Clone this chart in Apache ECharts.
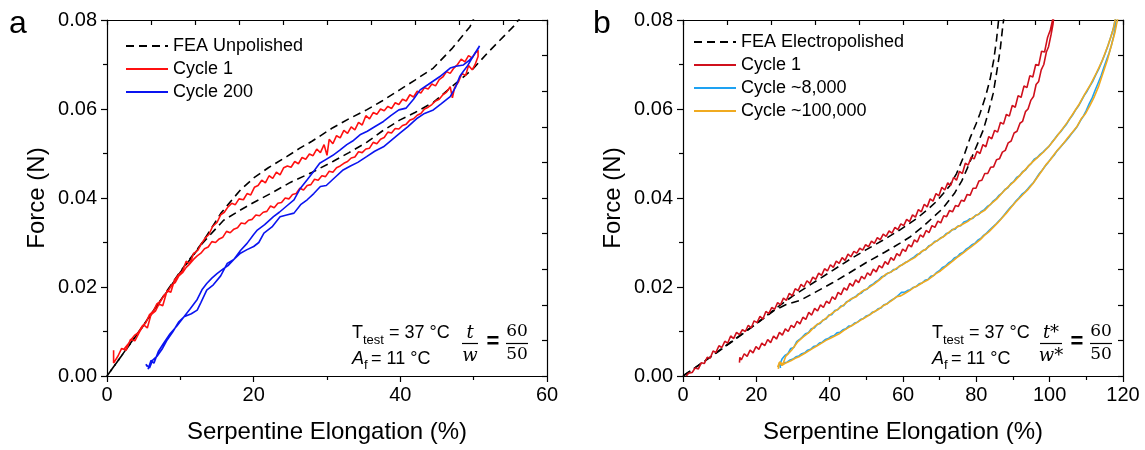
<!DOCTYPE html>
<html>
<head>
<meta charset="utf-8">
<script src="https://cdn.jsdelivr.net/npm/echarts@6/dist/echarts.min.js"></script>
<style>html,body{margin:0;padding:0;background:#fff}#chart{width:1145px;height:450px}</style>
</head>
<body>
<div id="chart"></div>
<script>
// ---- panel a : unpolished ----
const feaUnpolishedLoad = [[0,0],[5,0.0115],[10,0.0235],[13,0.030],[15.5,0.0365],[17,0.0395],[18.2,0.0418],[20,0.0445],[22,0.0468],[24.5,0.0493],[26.3,0.0512],[28,0.0528],[30.8,0.0558],[33,0.0578],[35.4,0.0598],[37.5,0.0618],[39.9,0.0643],[42,0.0665],[44.5,0.0692],[47,0.0735],[49.5,0.0785],[50.2,0.0810]]
const feaUnpolishedUnload = [[56.6,0.0810],[55.4,0.0785],[52,0.0728],[49.9,0.0690],[47,0.0650],[44.5,0.0615],[42,0.0592],[39.9,0.0575],[37.5,0.0550],[35.4,0.0525],[33,0.0502],[30.8,0.0482],[28,0.0458],[25,0.0435],[22.3,0.0410],[20,0.0390],[18.2,0.0373],[15.9,0.0350],[14.5,0.0325],[13,0.0298],[10,0.0233],[5,0.0114],[0,0]]
const cycle1A = [[0.9,0.0058],[0.9,0.0029],[1.5,0.0045],[2,0.0062],[2.6,0.0058],[3.2,0.0082],[3.8,0.0079],[4.4,0.0098],[5,0.0115],[5.5,0.0108],[6,0.0138],[6.6,0.0146],[7.1,0.0162],[7.6,0.0158],[8.2,0.0192],[8.7,0.0188],[9.2,0.0215],[9.8,0.0228],[10.3,0.0236],[10.8,0.0258],[11.3,0.0252],[11.8,0.0275],[12.4,0.0283],[12.9,0.0298],[13.4,0.0310],[13.9,0.0318],[14.4,0.0336],[15,0.0345],[15.5,0.0362],[16,0.0368],[16.5,0.0380],[17,0.0388],[17.5,0.0385],[18,0.0398],[18.6,0.0396],[19.1,0.0410],[19.6,0.0407],[20.1,0.0424],[20.6,0.0428],[21.1,0.0440],[21.6,0.0434],[22.1,0.0450],[22.6,0.0444],[23.1,0.0458],[23.6,0.0452],[24.1,0.0468],[24.6,0.0472],[25.1,0.0469],[25.6,0.0482],[26.1,0.0477],[26.6,0.0491],[27.1,0.0487],[27.6,0.0499],[28.1,0.0495],[28.6,0.0510],[29.1,0.0502],[29.6,0.0520],[30,0.0496],[30.3,0.0532],[30.8,0.0522],[31.3,0.0540],[31.8,0.0535],[32.3,0.0552],[32.8,0.0545],[33.3,0.0560],[33.8,0.0553],[34.3,0.0570],[34.8,0.0564],[35.3,0.0585],[35.8,0.0578],[36.3,0.0592],[36.8,0.0588],[37.3,0.0600],[37.8,0.0596],[38.3,0.0606],[38.8,0.0601],[39.3,0.0614],[39.8,0.0610],[40.3,0.0622],[40.8,0.0618],[41.3,0.0632],[41.8,0.0627],[42.3,0.0640],[42.8,0.0636],[43.3,0.0648],[43.8,0.0645],[44.3,0.0656],[44.8,0.0652],[45.3,0.0666],[45.8,0.0672],[46.3,0.0684],[46.8,0.0680],[47.3,0.0692],[47.8,0.0700],[48.3,0.0712],[48.8,0.0706],[49.3,0.0720],[49.8,0.0715],[50.3,0.0728],[50.6,0.0732],
  [50.6,0.0718],[50.2,0.0700],[49.8,0.0688],[49.3,0.0698],[48.9,0.0675],[48.4,0.0680],[47.9,0.0660],[47.4,0.0648],[47.1,0.0625],[46.8,0.0650],[46.3,0.0638],[45.8,0.0632],[45.3,0.0622],[44.8,0.0618],[44.3,0.0610],[43.8,0.0604],[43.3,0.0600],[42.8,0.0590],[42.3,0.0586],[41.8,0.0578],[41.3,0.0575],[40.8,0.0566],[40.3,0.0563],[39.8,0.0555],[39.3,0.0556],[38.8,0.0546],[38.3,0.0548],[37.8,0.0536],[37.3,0.0532],[36.8,0.0522],[36.3,0.0525],[35.8,0.0512],[35.3,0.0510],[34.8,0.0502],[34.3,0.0504],[33.8,0.0492],[33.3,0.0490],[32.8,0.0482],[32.3,0.0478],[31.8,0.0472],[31.3,0.0468],[30.8,0.0458],[30.3,0.0460],[29.8,0.0448],[29.3,0.0450],[28.8,0.0440],[28.3,0.0442],[27.8,0.0430],[27.3,0.0428],[26.8,0.0418],[26.3,0.0422],[25.8,0.0410],[25.3,0.0408],[24.8,0.0398],[24.3,0.0400],[23.8,0.0390],[23.3,0.0388],[22.8,0.0378],[22.3,0.0382],[21.8,0.0370],[21.3,0.0368],[20.8,0.0360],[20.3,0.0362],[19.8,0.0352],[19.3,0.0350],[18.8,0.0342],[18.3,0.0344],[17.8,0.0333],[17.3,0.0330],[16.8,0.0322],[16.3,0.0325],[15.8,0.0312],[15.3,0.0308],[14.8,0.0300],[14.3,0.0302],[13.8,0.0290],[13.3,0.0286],[12.8,0.0276],[12.3,0.0270],[11.8,0.0262],[11.3,0.0252],[10.8,0.0244],[10.3,0.0232],[9.8,0.0225],[9.3,0.0210],[8.8,0.0204],[8.3,0.0190],[7.8,0.0182],[7.3,0.0168],[6.8,0.0162],[6.3,0.0145],[5.8,0.0138],[5.3,0.0120],[4.8,0.0112],[4.3,0.0098],[3.8,0.0092],[3.3,0.0082],[2.8,0.0070],[2.3,0.0060]]
const cycle200A = [[5.5,0.0021],[5.3,0.0026],[5.8,0.0018],[6.2,0.0035],[6.8,0.0044],[7.5,0.0060],[8.2,0.0081],[9,0.0100],[9.8,0.0122],[10.5,0.0133],[11.3,0.0150],[12.3,0.0172],[13,0.0195],[13.6,0.0208],[14.3,0.0220],[15,0.0230],[15.8,0.0240],[16.5,0.0248],[17.3,0.0262],[18.2,0.0282],[19.1,0.0298],[20,0.0318],[20.5,0.0328],[21.5,0.0340],[22.7,0.0358],[23.5,0.0368],[24.5,0.0382],[25.5,0.0396],[26.3,0.0420],[27.3,0.0441],[28.2,0.0460],[29,0.0478],[30,0.0488],[30.8,0.0496],[31.8,0.0508],[32.7,0.0520],[33.5,0.0528],[34.5,0.0542],[35.5,0.0550],[36.5,0.0560],[37.7,0.0572],[38.7,0.0585],[39.8,0.0598],[40.8,0.0602],[41.8,0.0622],[42.7,0.0643],[43.8,0.0655],[45.4,0.0673],[46.8,0.0692],[47.6,0.0696],[48.6,0.0699],[49.3,0.0708],[49.9,0.0718],[50.8,0.0742],
  [50.6,0.0735],[49.9,0.0718],[49.2,0.0698],[48.6,0.0685],[48.1,0.0673],[47.5,0.0648],[46.8,0.0628],[45.6,0.0612],[44.5,0.0598],[43.3,0.0590],[42.2,0.0578],[41,0.0560],[39.9,0.0545],[38.8,0.0530],[37.7,0.0515],[36.5,0.0505],[35.4,0.0493],[34.2,0.0480],[33.2,0.0472],[32.2,0.0463],[31,0.0445],[29.9,0.0428],[29.1,0.0426],[28.2,0.0410],[27.3,0.0396],[26.4,0.0385],[25.5,0.0366],[24.5,0.0362],[23.6,0.0358],[22.5,0.0335],[21.4,0.0321],[20.7,0.0300],[20,0.0291],[19.1,0.0284],[18.2,0.0276],[17.3,0.0262],[16.4,0.0253],[15.5,0.0225],[14.5,0.0205],[13.6,0.0193],[12.8,0.0165],[12.3,0.0148],[11.5,0.0140],[10.5,0.0133],[9.5,0.0112],[8.6,0.0095],[7.7,0.0073],[7,0.0055],[6.4,0.0029],[6.0,0.0035],[5.6,0.0015]]

// ---- panel b : electropolished ----
const feaElectroLoad = [[0,0],[5,0.0028],[10,0.0058],[15,0.0088],[20,0.0118],[25,0.0150],[30,0.0180],[36.4,0.0214],[40,0.0233],[45.5,0.0262],[50,0.0284],[54.5,0.0305],[59.1,0.0328],[63.6,0.0353],[67,0.0376],[69.1,0.0392],[71,0.0410],[72.7,0.0427],[74.6,0.0455],[76.5,0.0492],[78.3,0.0535],[80,0.0568],[81,0.0590],[82.5,0.0628],[83.7,0.0665],[84.7,0.0708],[85.5,0.0755],[86.2,0.0810]]
const feaElectroUnload = [[87.6,0.0810],[87.2,0.0785],[86.5,0.0733],[85.5,0.0680],[84.6,0.0635],[83.2,0.0590],[81.9,0.0553],[80.5,0.0525],[79.2,0.0500],[77.5,0.0466],[76,0.0438],[74,0.0410],[70.9,0.0377],[68,0.0355],[65.5,0.0336],[62,0.0313],[59.1,0.0298],[55,0.0278],[50,0.0255],[45,0.0230],[40.9,0.0210],[36,0.0188],[32,0.0170],[28,0.0160],[25,0.0148],[20,0.0117],[10,0.0057],[0,0]]
const cycle1B = [[0.9,0.0000],[1.5,0.0006],[2.5,0.0008],[3.3,0.0018],[4.2,0.0016],[5.0,0.0030],[5.8,0.0028],[6.6,0.0042],[7.4,0.0040],[8.2,0.0056],[9.0,0.0053],[9.8,0.0068],[10.6,0.0064],[11.4,0.0078],[12.2,0.0074],[13.0,0.0090],[13.8,0.0084],[14.6,0.0098],[15.4,0.0093],[16.2,0.0104],[17.0,0.0100],[17.8,0.0114],[18.6,0.0108],[19.4,0.0124],[20.2,0.0120],[21.0,0.0134],[21.8,0.0128],[22.6,0.0145],[23.4,0.0140],[24.2,0.0154],[25.0,0.0150],[25.8,0.0165],[26.6,0.0160],[27.4,0.0175],[28.2,0.0170],[29.0,0.0186],[29.8,0.0180],[30.6,0.0196],[31.4,0.0192],[32.2,0.0206],[33.0,0.0200],[33.8,0.0214],[34.6,0.0208],[35.4,0.0222],[36.2,0.0217],[37.0,0.0231],[37.8,0.0226],[38.6,0.0241],[39.4,0.0236],[40.2,0.0250],[41.0,0.0244],[41.8,0.0258],[42.6,0.0253],[43.4,0.0266],[44.2,0.0260],[45.0,0.0274],[45.8,0.0268],[46.6,0.0280],[47.4,0.0276],[48.2,0.0287],[49.0,0.0283],[49.8,0.0295],[50.6,0.0290],[51.4,0.0303],[52.2,0.0298],[53.0,0.0311],[53.8,0.0306],[54.6,0.0319],[55.4,0.0314],[56.2,0.0326],[57.0,0.0321],[57.8,0.0334],[58.6,0.0329],[59.4,0.0342],[60.2,0.0338],[61.0,0.0352],[61.8,0.0347],[62.6,0.0362],[63.4,0.0357],[64.2,0.0374],[65.0,0.0369],[65.8,0.0386],[66.6,0.0380],[67.4,0.0398],[68.2,0.0393],[69.0,0.0410],[69.8,0.0405],[70.6,0.0424],[71.4,0.0418],[72.2,0.0434],[73.0,0.0428],[73.8,0.0446],[74.6,0.0440],[75.4,0.0460],[76.2,0.0455],[77.0,0.0478],[77.8,0.0474],[78.6,0.0492],[79.4,0.0488],[80.2,0.0505],[81.0,0.0500],[81.8,0.0520],[82.6,0.0515],[83.4,0.0538],[84.2,0.0533],[85.0,0.0552],[85.8,0.0548],[86.6,0.0570],[87.4,0.0566],[88.2,0.0588],[89.0,0.0584],[89.8,0.0608],[90.6,0.0604],[91.4,0.0630],[92.2,0.0626],[93.0,0.0652],[93.8,0.0648],[94.6,0.0675],[95.4,0.0672],[96.2,0.0700],[97.0,0.0698],[97.8,0.0730],[98.6,0.0728],[99.4,0.0760],[100.2,0.0778],[100.8,0.0800],[101.2,0.0815],
  [101.4,0.0815],[100.9,0.0790],[100.4,0.0768],[99.7,0.0740],[99.1,0.0728],[98.4,0.0700],[97.7,0.0688],[97.0,0.0662],[96.3,0.0655],[95.6,0.0628],[94.9,0.0620],[94.1,0.0600],[93.4,0.0594],[92.6,0.0572],[91.9,0.0568],[91.1,0.0550],[90.3,0.0546],[89.5,0.0528],[88.7,0.0524],[87.9,0.0507],[87.1,0.0503],[86.3,0.0488],[85.5,0.0486],[84.7,0.0470],[83.9,0.0469],[83.1,0.0455],[82.3,0.0455],[81.5,0.0440],[80.7,0.0438],[79.9,0.0422],[79.1,0.0422],[78.3,0.0406],[77.5,0.0408],[76.7,0.0393],[75.9,0.0395],[75.1,0.0381],[74.3,0.0383],[73.5,0.0369],[72.7,0.0372],[71.9,0.0358],[71.1,0.0360],[70.3,0.0344],[69.5,0.0348],[68.7,0.0334],[67.9,0.0338],[67.1,0.0322],[66.3,0.0327],[65.5,0.0312],[64.7,0.0317],[63.9,0.0301],[63.1,0.0306],[62.3,0.0290],[61.5,0.0295],[60.7,0.0280],[59.9,0.0285],[59.1,0.0270],[58.3,0.0275],[57.5,0.0260],[56.7,0.0266],[55.9,0.0251],[55.1,0.0257],[54.3,0.0243],[53.5,0.0248],[52.7,0.0234],[51.9,0.0240],[51.1,0.0226],[50.3,0.0232],[49.5,0.0218],[48.7,0.0224],[47.9,0.0210],[47.1,0.0216],[46.3,0.0202],[45.5,0.0208],[44.7,0.0193],[43.9,0.0198],[43.1,0.0183],[42.3,0.0188],[41.5,0.0172],[40.7,0.0178],[39.9,0.0163],[39.1,0.0168],[38.3,0.0154],[37.5,0.0160],[36.7,0.0146],[35.9,0.0152],[35.1,0.0137],[34.3,0.0143],[33.5,0.0127],[32.7,0.0132],[31.9,0.0117],[31.1,0.0123],[30.3,0.0109],[29.5,0.0114],[28.7,0.0100],[27.9,0.0106],[27.1,0.0092],[26.3,0.0098],[25.5,0.0083],[24.7,0.0090],[23.9,0.0075],[23.1,0.0082],[22.3,0.0068],[21.5,0.0074],[20.7,0.0060],[19.9,0.0066],[19.1,0.0052],[18.3,0.0058],[17.5,0.0044],[16.7,0.0050],[15.9,0.0036],[15.5,0.0042],[15.4,0.0030]]
const cycle8k = [[26.4,0.0026],[27.0,0.0038],[27.8,0.0046],[28.6,0.0050],[29.4,0.0062],[30.2,0.0064],[31.0,0.0077],[31.8,0.0082],[32.6,0.0088],[33.4,0.0095],[34.2,0.0097],[35.0,0.0106],[35.8,0.0108],[36.6,0.0116],[37.4,0.0118],[38.2,0.0126],[39.0,0.0128],[39.8,0.0137],[40.6,0.0138],[41.4,0.0147],[42.2,0.0149],[43.0,0.0157],[43.8,0.0158],[44.6,0.0167],[45.4,0.0169],[46.2,0.0175],[47.0,0.0178],[47.8,0.0184],[48.6,0.0186],[49.4,0.0193],[50.2,0.0195],[51.0,0.0203],[51.8,0.0206],[52.6,0.0212],[53.4,0.0216],[54.2,0.0223],[55.0,0.0225],[55.8,0.0231],[56.6,0.0233],[57.4,0.0239],[58.2,0.0240],[59.0,0.0247],[59.8,0.0250],[60.6,0.0255],[61.4,0.0258],[62.2,0.0263],[63.0,0.0267],[63.8,0.0273],[64.6,0.0275],[65.4,0.0282],[66.2,0.0284],[67.0,0.0292],[67.8,0.0295],[68.6,0.0302],[69.4,0.0304],[70.2,0.0310],[71.0,0.0313],[71.8,0.0320],[72.6,0.0322],[73.4,0.0329],[74.2,0.0330],[75.0,0.0337],[75.8,0.0338],[76.6,0.0346],[77.4,0.0348],[78.2,0.0353],[79.0,0.0354],[79.8,0.0361],[80.6,0.0363],[81.4,0.0370],[82.2,0.0374],[83.0,0.0381],[83.8,0.0385],[84.6,0.0393],[85.4,0.0398],[86.2,0.0406],[87.0,0.0411],[87.8,0.0419],[88.6,0.0423],[89.4,0.0432],[90.2,0.0437],[91.0,0.0446],[91.8,0.0450],[92.6,0.0459],[93.4,0.0463],[94.2,0.0472],[95.0,0.0478],[95.8,0.0487],[96.6,0.0491],[97.4,0.0498],[98.2,0.0503],[99.0,0.0510],[99.8,0.0516],[100.6,0.0525],[101.4,0.0533],[102.2,0.0542],[103.0,0.0549],[103.8,0.0558],[104.6,0.0566],[105.4,0.0577],[106.2,0.0586],[107.0,0.0597],[107.8,0.0606],[108.6,0.0618],[109.4,0.0630],[110.2,0.0640],[111.0,0.0652],[111.8,0.0663],[112.6,0.0677],[113.4,0.0690],[114.2,0.0706],[115.0,0.0722],[115.8,0.0740],[116.6,0.0760],[117.4,0.0782],[118.0,0.0805],
  [118.4,0.0805],[117.9,0.0782],[117.4,0.0762],[116.8,0.0742],[116.2,0.0726],[115.5,0.0710],[114.8,0.0694],[114.0,0.0674],[113.2,0.0658],[112.4,0.0642],[111.6,0.0625],[110.8,0.0612],[110.0,0.0597],[109.2,0.0584],[108.4,0.0574],[107.6,0.0562],[106.8,0.0553],[106.0,0.0545],[105.2,0.0536],[104.4,0.0528],[103.6,0.0521],[102.8,0.0513],[102.0,0.0506],[101.2,0.0496],[100.4,0.0489],[99.6,0.0480],[98.8,0.0472],[98.0,0.0463],[97.2,0.0455],[96.4,0.0445],[95.6,0.0435],[94.8,0.0428],[94.0,0.0420],[93.2,0.0413],[92.4,0.0408],[91.6,0.0400],[90.8,0.0393],[90.0,0.0385],[89.2,0.0378],[88.4,0.0370],[87.6,0.0362],[86.8,0.0354],[86.0,0.0347],[85.2,0.0340],[84.4,0.0334],[83.6,0.0328],[82.8,0.0321],[82.0,0.0316],[81.2,0.0309],[80.4,0.0305],[79.6,0.0298],[78.8,0.0295],[78.0,0.0289],[77.2,0.0285],[76.4,0.0278],[75.6,0.0275],[74.8,0.0268],[74.0,0.0265],[73.2,0.0258],[72.4,0.0254],[71.6,0.0247],[70.8,0.0244],[70.0,0.0237],[69.2,0.0233],[68.4,0.0226],[67.6,0.0224],[66.8,0.0217],[66.0,0.0215],[65.2,0.0209],[64.4,0.0207],[63.6,0.0201],[62.8,0.0199],[62.0,0.0194],[61.2,0.0192],[60.4,0.0188],[59.6,0.0188],[58.8,0.0182],[58.0,0.0176],[57.2,0.0172],[56.4,0.0168],[55.6,0.0162],[54.8,0.0160],[54.0,0.0153],[53.2,0.0151],[52.4,0.0145],[51.6,0.0143],[50.8,0.0137],[50.0,0.0135],[49.2,0.0129],[48.4,0.0127],[47.6,0.0121],[46.8,0.0119],[46.0,0.0113],[45.2,0.0112],[44.4,0.0106],[43.6,0.0104],[42.8,0.0098],[42.0,0.0097],[41.2,0.0091],[40.4,0.0089],[39.6,0.0084],[38.8,0.0082],[38.0,0.0076],[37.2,0.0074],[36.4,0.0068],[35.6,0.0066],[34.8,0.0060],[34.0,0.0058],[33.2,0.0052],[32.4,0.0050],[31.6,0.0045],[30.8,0.0043],[30.0,0.0038],[29.2,0.0036],[28.4,0.0031],[27.6,0.0030],[26.8,0.0024],[26.3,0.0030],[26.6,0.0018]]
const cycle100k = [[25.8,0.0020],[26.4,0.0032],[27.2,0.0026],[28.0,0.0044],[29.6,0.0058],[31.2,0.0076],[32.8,0.0088],[34.4,0.0098],[36.0,0.0112],[37.6,0.0121],[39.2,0.0131],[40.8,0.0142],[42.4,0.0151],[44.0,0.0161],[45.6,0.0172],[47.2,0.0178],[48.8,0.0190],[50.4,0.0197],[52.0,0.0206],[53.6,0.0216],[55.2,0.0228],[56.8,0.0234],[58.4,0.0243],[60.0,0.0251],[61.6,0.0259],[63.2,0.0266],[64.8,0.0278],[66.4,0.0286],[68.0,0.0297],[69.6,0.0306],[71.2,0.0314],[72.8,0.0325],[74.4,0.0333],[76.0,0.0340],[77.6,0.0347],[79.2,0.0357],[80.8,0.0365],[82.4,0.0373],[84.0,0.0387],[85.6,0.0398],[87.2,0.0413],[88.8,0.0426],[90.4,0.0438],[92.0,0.0452],[93.6,0.0466],[95.2,0.0480],[96.8,0.0492],[98.4,0.0504],[100.0,0.0518],[101.6,0.0535],[103.2,0.0552],[104.8,0.0570],[106.4,0.0590],[108.0,0.0610],[109.6,0.0634],[111.2,0.0656],[112.8,0.0682],[114.4,0.0710],[116.0,0.0745],[117.2,0.0775],[118.0,0.0805],
  [118.6,0.0805],[117.8,0.0772],[116.9,0.0745],[115.8,0.0712],[114.6,0.0682],[113.4,0.0652],[112.2,0.0628],[111.0,0.0608],[109.8,0.0590],[108.6,0.0578],[107.4,0.0560],[106.2,0.0548],[105.0,0.0536],[103.8,0.0523],[102.6,0.0512],[101.4,0.0500],[100.2,0.0486],[99.0,0.0475],[97.8,0.0460],[96.6,0.0446],[95.4,0.0432],[94.2,0.0420],[93.0,0.0410],[91.8,0.0400],[90.6,0.0390],[89.4,0.0378],[88.2,0.0366],[87.0,0.0355],[85.8,0.0344],[84.6,0.0334],[83.4,0.0324],[82.2,0.0316],[81.0,0.0306],[79.8,0.0298],[78.6,0.0290],[77.4,0.0283],[76.2,0.0275],[75.0,0.0268],[73.8,0.0260],[72.6,0.0252],[71.4,0.0244],[70.2,0.0236],[69.0,0.0230],[67.8,0.0222],[66.6,0.0215],[65.4,0.0210],[64.2,0.0204],[63.0,0.0199],[61.8,0.0192],[60.6,0.0186],[59.4,0.0180],[58.2,0.0178],[57.0,0.0170],[55.8,0.0163],[54.6,0.0158],[53.4,0.0150],[52.2,0.0145],[51.0,0.0138],[49.8,0.0132],[48.6,0.0126],[47.4,0.0120],[46.2,0.0114],[45.0,0.0108],[43.8,0.0102],[42.6,0.0095],[41.4,0.0090],[40.2,0.0085],[39.0,0.0080],[37.8,0.0074],[36.6,0.0068],[35.4,0.0062],[34.2,0.0056],[33.0,0.0050],[31.8,0.0044],[30.6,0.0040],[29.4,0.0034],[28.2,0.0030],[27.0,0.0024],[26.2,0.0030],[26.0,0.0016]]

const legendA = ['FEA Unpolished', 'Cycle 1', 'Cycle 200']
const legendB = ['FEA Electropolished', 'Cycle 1 ', 'Cycle ~8,000', 'Cycle ~100,000']

const SANS = 'Arial, "Liberation Sans", sans-serif'
const SERIF = '"DejaVu Serif", "Liberation Serif", serif'

function axesFor(grid, xmax, topStep) {
  const black = {color: '#000', width: 1.2}
  return {
    x: [
      {
        gridIndex: grid, type: 'value', min: 0, max: xmax, interval: 20, position: 'bottom',
        axisLine: {onZero: false, lineStyle: black},
        axisTick: {inside: false, length: 6, lineStyle: black},
        minorTick: {show: true, splitNumber: 2, length: 4, lineStyle: black},
        splitLine: {show: false},
        axisLabel: {color: '#000', fontSize: 20, fontFamily: SANS, margin: 9},
        name: 'Serpentine Elongation (%)', nameLocation: 'middle', nameGap: 44,
        nameTextStyle: {color: '#000', fontSize: 24, fontFamily: SANS}
      },
      {
        gridIndex: grid, type: 'value', min: 0, max: xmax, interval: topStep, position: 'top',
        axisLine: {onZero: false, lineStyle: black},
        axisTick: {inside: true, length: 5, lineStyle: black},
        axisLabel: {show: false}, splitLine: {show: false}
      }
    ],
    y: [
      {
        gridIndex: grid, type: 'value', min: 0, max: 0.08, interval: 0.02, position: 'left',
        axisLine: {onZero: false, lineStyle: black},
        axisTick: {inside: false, length: 6, lineStyle: black},
        minorTick: {show: true, splitNumber: 2, length: 4, lineStyle: black},
        splitLine: {show: false},
        axisLabel: {color: '#000', fontSize: 20, fontFamily: SANS, margin: 10, formatter: v => v.toFixed(2)},
        name: 'Force (N)', nameLocation: 'middle', nameGap: 58,
        nameTextStyle: {color: '#000', fontSize: 24, fontFamily: SANS}
      },
      {
        gridIndex: grid, type: 'value', min: 0, max: 0.08, interval: 0.008, position: 'right',
        axisLine: {onZero: false, lineStyle: black},
        axisTick: {inside: true, length: 5, lineStyle: black},
        axisLabel: {show: false}, splitLine: {show: false}
      }
    ]
  }
}

function curve(name, data, color, axisBase, dashed) {
  return {
    name: name, type: 'line', data: data,
    xAxisIndex: axisBase, yAxisIndex: axisBase,
    symbol: 'none', clip: true, animation: false,
    lineStyle: {color: color, width: 1.6, type: dashed ? [8, 5] : 'solid'},
    itemStyle: {color: color}
  }
}

// text block: T_test / A_f and the t/w fraction
function note(x, star) {
  const g = []
  const txt = (left, top, text, size, opts) => g.push({
    type: 'text', x: left, y: top,
    style: Object.assign({text: text, fontSize: size, fontFamily: SANS, fill: '#000', align: 'left', verticalAlign: 'middle'}, opts || {})
  })
  const bar = (x1, x2, y) => g.push({type: 'line', shape: {x1: x1, y1: y, x2: x2, y2: y}, style: {stroke: '#000', lineWidth: 1.2}})
  txt(x, 333, 'T', 18)
  txt(x + 11, 340, 'test', 13)
  txt(x + 37, 333, '= 37 °C', 18)
  txt(x, 359, 'A', 18, {fontStyle: 'italic'})
  txt(x + 12, 365, 'f', 13)
  txt(x + 19, 359, '= 11 °C', 18)
  const fx = x + (star ? 119 : 118)
  const half = star ? 11 : 8
  txt(fx, 333, star ? 't*' : 't', 18, {fontFamily: SERIF, fontStyle: 'italic', align: 'center'})
  bar(fx - half, fx + half, 343.5)
  txt(fx, 356, star ? 'w*' : 'w', 18, {fontFamily: SERIF, fontStyle: 'italic', align: 'center'})
  const ex = fx + (star ? 26 : 23)
  txt(ex, 342, '=', 22, {fontFamily: SANS, fontWeight: 'bold', align: 'center'})
  const nx = ex + 24
  txt(nx, 332, '60', 17, {fontFamily: SERIF, align: 'center'})
  bar(nx - 11, nx + 11, 343.5)
  txt(nx, 355, '50', 17, {fontFamily: SERIF, align: 'center'})
  return g
}

const A = axesFor(0, 60, 6)
const B = axesFor(1, 120, 12)

const legendStyle = {
  orient: 'vertical', itemWidth: 42, itemHeight: 14, itemGap: 5, padding: 0,
  itemStyle: {opacity: 0},
  textStyle: {color: '#000', fontSize: 18, fontFamily: SANS, lineHeight: 18},
  selectedMode: false
}

let myChart = echarts.init(document.getElementById('chart'), null, {renderer: 'canvas'})
myChart.setOption({
  backgroundColor: '#fff',
  animation: false,
  grid: [
    {left: 107, top: 20, width: 440, height: 356},
    {left: 683, top: 20, width: 440, height: 356}
  ],
  xAxis: A.x.concat(B.x),
  yAxis: A.y.concat(B.y),
  legend: [
    Object.assign({data: legendA, left: 125, top: 37}, legendStyle),
    Object.assign({data: legendB, left: 693, top: 33}, legendStyle)
  ],
  series: [
    curve(legendA[0], feaUnpolishedLoad, '#000', 0, true),
    curve(legendA[0], feaUnpolishedUnload, '#000', 0, true),
    curve(legendA[1], cycle1A, '#ff1010', 0),
    curve(legendA[2], cycle200A, '#0a14f0', 0),
    curve(legendB[0], feaElectroLoad, '#000', 2, true),
    curve(legendB[0], feaElectroUnload, '#000', 2, true),
    curve(legendB[1], cycle1B, '#d0101c', 2),
    curve(legendB[2], cycle8k, '#1ea2f2', 2),
    curve(legendB[3], cycle100k, '#f0aa20', 2)
  ],
  graphic: [
    {type: 'text', x: 9, y: 8, style: {text: 'a', fontSize: 32, fontFamily: SANS, fill: '#000'}},
    {type: 'text', x: 593, y: 8, style: {text: 'b', fontSize: 32, fontFamily: SANS, fill: '#000'}}
  ].concat(note(352, false), note(932, true))
})
</script>
</body>
</html>
